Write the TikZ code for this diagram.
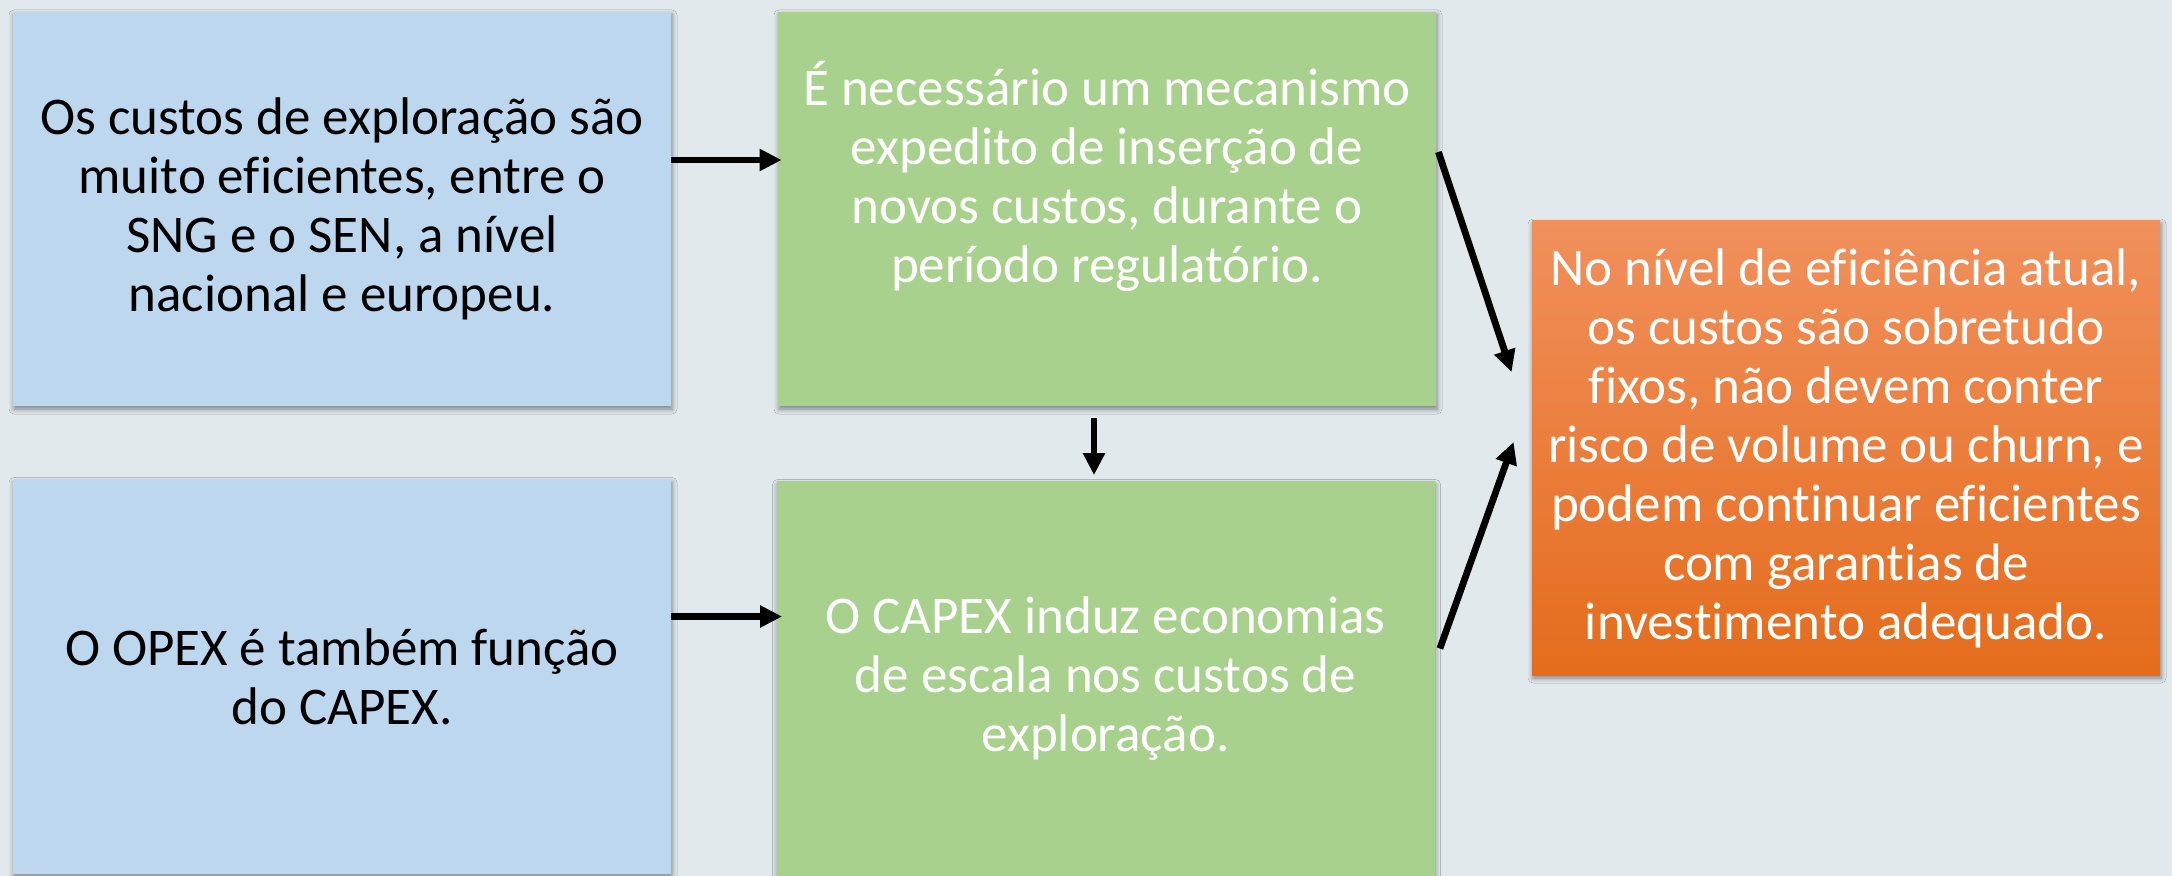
\documentclass[tikz,border=0pt]{standalone}
\usepackage{fontspec}
\setmainfont{Carlito}[Ligatures=NoCommon]
\usetikzlibrary{arrows.meta,shadows.blur}
\definecolor{bgcol}{RGB}{225,233,237}
\definecolor{bluebx}{RGB}{189,215,238}
\definecolor{greenbx}{RGB}{169,209,142}
\definecolor{orangetop}{RGB}{241,144,92}
\definecolor{orangebot}{RGB}{228,108,28}
\begin{document}
\begin{tikzpicture}[x=0.5pt,y=-0.5pt,
	txt/.style={align=center,inner sep=0pt,font=\fontsize{26.5}{29.5}\selectfont},
	box/.style={txt,minimum width=329pt,minimum height=197pt,
		blur shadow={shadow xshift=0.5pt,shadow yshift=-1.5pt,shadow blur radius=2.5pt,shadow opacity=45}},
	arr/.style={line width=3.4pt,-{Triangle[length=11pt,width=10.5pt]}}]
	\path[use as bounding box,fill=bgcol] (0,0) rectangle (2172,876);
	\node[box,fill=bluebx] (expl) at (342,209) {Os custos de exploração são\\muito eficientes, entre o\\SNG e o SEN, a nível\\nacional e europeu.};
	\node[box,fill=greenbx] (mec) at (1107,209) {};
	\node[txt,text=white] (mectxt) at (1107,176) {É necessário um mecanismo\\expedito de inserção de\\novos custos, durante o\\período regulatório.};
	\node[box,fill=bluebx] (opex) at (342,676.5) {O OPEX é também função\\do CAPEX.};
	\node[box,fill=greenbx,text=white] (capex) at (1105.5,678.5) {O CAPEX induz economias\\de escala nos custos de\\exploração.};
	\node[box,minimum width=314pt,minimum height=227pt,top color=orangetop,bottom color=orangebot,text=white] (efic) at (1846,448) {No nível de eficiência atual,\\os custos são sobretudo\\fixos, não devem conter\\risco de volume ou churn, e\\podem continuar eficientes\\com garantias de\\investimento adequado.};
	\draw[arr] ([yshift=24.5pt]expl.east) -- ([xshift=2pt,yshift=24.5pt]expl.east -| mec.west);
	\draw[arr] ([yshift=30pt]opex.east) -- ([xshift=3pt,yshift=30pt]opex.east -| capex.west);
	\draw[arr] ([xshift=-6.5pt,yshift=-6pt]mec.south) -- ([xshift=-6.5pt,yshift=3pt]mec.south |- capex.north);
	\draw[arr] ([xshift=1pt,yshift=28.5pt]mec.east) -- ([xshift=-10pt,yshift=38pt]efic.west);
	\draw[arr] ([xshift=2.5pt,yshift=15pt]capex.east) -- ([xshift=-9pt,yshift=3pt]efic.west);
\end{tikzpicture}
\end{document}
